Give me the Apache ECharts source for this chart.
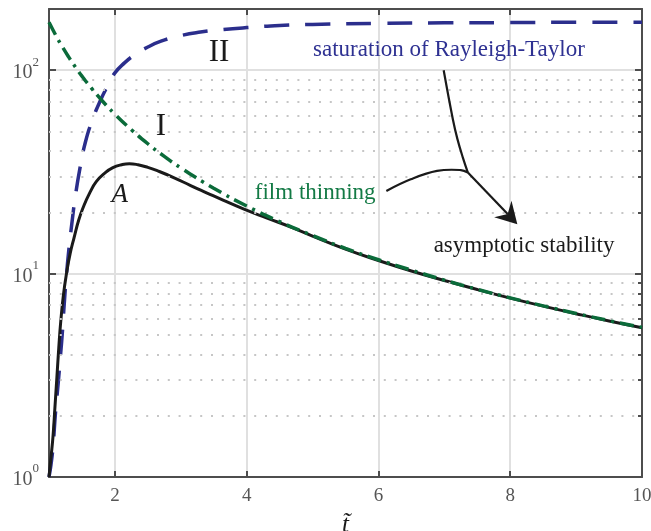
<!DOCTYPE html>
<html>
<head>
<meta charset="utf-8">
<script src="https://cdn.jsdelivr.net/npm/echarts@6/dist/echarts.min.js"></script>
<style>
  html, body { margin: 0; background: #fff; }
  #main { width: 651px; height: 531px; }
</style>
</head>
<body>
<div id="main"></div>
<script>
// curve A (solid black)
const tA = [1, 1.03, 1.06, 1.09, 1.12, 1.15, 1.18, 1.22, 1.27, 1.32, 1.38, 1.45, 1.52, 1.62, 1.72, 1.85, 1.97, 2.1, 2.22, 2.35, 2.5, 2.65, 2.9, 3.15, 3.4, 3.65, 3.95, 4.3, 4.7, 5, 5.5, 6, 6.5, 7, 7.5, 8, 8.5, 9, 9.5, 10];
const vA = [1.0, 1.25, 1.57, 2.2, 3.1, 4.4, 5.9, 7.9, 10.2, 12.5, 15.0, 18.3, 21.2, 25.0, 28.4, 31.3, 33.2, 34.3, 34.7, 34.3, 33.3, 32.0, 29.6, 27.1, 24.9, 22.9, 20.8, 18.8, 16.8, 15.3, 13.2, 11.6, 10.3, 9.25, 8.35, 7.58, 6.92, 6.35, 5.85, 5.42];

// curve II (blue dashed, saturation of Rayleigh-Taylor)
const tII = [1, 1.03, 1.06, 1.1, 1.14, 1.17, 1.2, 1.23, 1.26, 1.3, 1.35, 1.4, 1.47, 1.55, 1.65, 1.78, 1.9, 2.0, 2.15, 2.3, 2.5, 2.7, 3.0, 3.3, 3.6, 4.0, 4.5, 5.0, 6.0, 7.0, 8.0, 9.0, 10];
const vII = [1.0, 1.15, 1.4, 2.1, 2.9, 3.8, 5.0, 7.0, 9.4, 13, 18, 24, 33, 44, 56, 71, 85, 97, 109, 119, 130, 139, 148, 154, 158, 162, 166, 168, 170, 171, 171.5, 172, 172];

// curve I (green dash-dot, film thinning)
const tI = [1, 1.1, 1.2, 1.3, 1.4, 1.5, 1.65, 1.8, 2, 2.25, 2.5, 2.75, 3, 3.5, 4, 4.5, 5, 5.5, 6, 6.5, 7, 7.5, 8, 8.5, 9, 9.5, 10];
const vI = [172, 149.1, 130.8, 116.0, 103.8, 93.6, 81.2, 71.2, 60.8, 51.0, 43.5, 37.7, 33.1, 26.3, 21.5, 18.0, 15.4, 13.3, 11.7, 10.4, 9.29, 8.37, 7.60, 6.94, 6.37, 5.87, 5.44];

const minorY = [2, 3, 4, 5, 6, 7, 8, 9, 20, 30, 40, 50, 60, 70, 80, 90];

// annotations, in data coordinates
const labels = [
  { text: 'II', at: [3.58, 122], size: 31, color: '#1a1a1a', italic: false },
  { text: 'I', at: [2.70, 52.8], size: 31, color: '#1a1a1a', italic: false },
  { text: 'A', at: [2.075, 24.3], size: 27, color: '#1a1a1a', italic: true },
  { text: 'saturation of Rayleigh-Taylor', at: [7.07, 126], size: 23, color: '#2e3192', italic: false },
  { text: 'film thinning', at: [5.04, 25.0], size: 23, color: '#137a45', italic: false },
  { text: 'asymptotic stability', at: [8.21, 13.6], size: 23, color: '#1a1a1a', italic: false }
];
const arrowFromTop = [[6.99, 100], [7.13, 57.3], [7.2, 45.7], [7.28, 37.3], [7.357, 31.4]];
const arrowFromLeft = [[6.12, 25.5], [6.49, 29.1], [6.89, 32.0], [7.25, 32.3], [7.357, 31.4]];
const arrowShaft = [[7.357, 31.4], [8.108, 17.5]];

const zip = (ts, vs) => ts.map((t, i) => [t, vs[i]]);

const serif = 'Liberation Serif';
const frame = '#4d4d4d';
const yRange = { type: 'log', logBase: 10, min: 1, max: 200 };

const chart = echarts.init(document.getElementById('main'));

const option = {
  animation: false,
  grid: { left: 49, right: 9, top: 9, bottom: 54, containLabel: false, outerBoundsMode: 'none' },
  xAxis: [
    {
      type: 'value', min: 1, max: 10, splitNumber: 5,
      axisLine: { lineStyle: { color: frame, width: 2 } },
      axisTick: { inside: true, length: 6, lineStyle: { color: frame, width: 2 } },
      axisLabel: { showMinLabel: false, margin: 10, color: '#555', fontFamily: serif, fontSize: 19 },
      splitLine: { show: true, lineStyle: { color: '#e0e0e0', width: 2 } },
      name: 't\u0303', nameLocation: 'middle', nameGap: 36,
      nameTextStyle: { fontFamily: serif, fontSize: 25, fontStyle: 'italic', color: '#1a1a1a' }
    },
    {
      type: 'value', min: 1, max: 10, splitNumber: 5, position: 'top',
      axisLine: { lineStyle: { color: frame, width: 2 } },
      axisTick: { inside: true, length: 6, lineStyle: { color: frame, width: 2 } },
      axisLabel: { show: false }, splitLine: { show: false }
    }
  ],
  yAxis: [
    Object.assign({}, yRange, {
      axisLine: { lineStyle: { color: frame, width: 2 } },
      axisTick: { inside: true, length: 7, lineStyle: { color: frame, width: 2 } },
      axisLabel: {
        margin: 10, showMaxLabel: false,
        formatter: v => {
          const e = Math.round(Math.log10(v));
          return Math.abs(Math.pow(10, e) - v) < 1e-6 ? '{b|10}{s|' + e + '}' : '';
        },
        rich: {
          b: { fontFamily: serif, fontSize: 20, color: '#555', lineHeight: 20, padding: [6, 0, 0, 0] },
          s: { fontFamily: serif, fontSize: 13, color: '#555', lineHeight: 14, padding: [0, 0, 16, 0] }
        }
      },
      splitLine: { show: true, lineStyle: { color: '#e0e0e0', width: 2 } }
    }),
    Object.assign({}, yRange, {
      axisLine: { show: false },
      axisTick: { inside: true, length: 4, customValues: minorY, lineStyle: { color: frame, width: 2 } },
      axisLabel: { show: false }, splitLine: { show: false }
    }),
    Object.assign({}, yRange, {
      position: 'right',
      axisLine: { lineStyle: { color: frame, width: 2 } },
      axisTick: { inside: true, length: 7, lineStyle: { color: frame, width: 2 } },
      axisLabel: { show: false }, splitLine: { show: false }
    }),
    Object.assign({}, yRange, {
      position: 'right',
      axisLine: { show: false },
      axisTick: { inside: true, length: 4, customValues: minorY, lineStyle: { color: frame, width: 2 } },
      axisLabel: { show: false }, splitLine: { show: false }
    })
  ],
  series: [
    {
      // dotted minor grid
      type: 'line', data: [], z: 1, silent: true,
      markLine: {
        silent: true, symbol: 'none', label: { show: false },
        lineStyle: { color: '#c6c6c6', width: 2, type: [2, 8.8] },
        data: minorY.map(v => ({ yAxis: v }))
      }
    },
    {
      name: 'A', type: 'line', data: zip(tA, vA), z: 4,
      showSymbol: false, smooth: 0.5,
      lineStyle: { color: '#1a1a1a', width: 3 }
    },
    {
      name: 'I', type: 'line', data: zip(tI, vI), z: 5,
      showSymbol: false, smooth: 0.5,
      lineStyle: { color: '#0b6b3a', width: 3.5, type: [14, 6, 3, 6] }
    },
    {
      name: 'II', type: 'line', data: zip(tII, vII), z: 3,
      showSymbol: false, smooth: 0.5,
      lineStyle: { color: '#2b2e8c', width: 3.5, type: [25, 16] }
    }
  ]
};

chart.setOption(option);

// annotations placed through the axes
const px = p => chart.convertToPixel({ xAxisIndex: 0, yAxisIndex: 0 }, p);
const graphics = [];
labels.forEach(l => {
  const p = px(l.at);
  graphics.push({
    type: 'text', x: p[0], y: p[1], z: 100,
    style: {
      text: l.text, fill: l.color, fontFamily: serif, fontSize: l.size,
      fontStyle: l.italic ? 'italic' : 'normal',
      align: 'center', verticalAlign: 'middle',
      textAlign: 'center', textVerticalAlign: 'middle'
    }
  });
});
[arrowFromTop, arrowFromLeft].forEach(path => {
  graphics.push({
    type: 'polyline', z: 100,
    shape: { points: path.map(px), smooth: 0.4 },
    style: { stroke: '#1a1a1a', lineWidth: 2.2, fill: null }
  });
});
const s0 = px(arrowShaft[0]);
const tip = px(arrowShaft[1]);
const dx = tip[0] - s0[0], dy = tip[1] - s0[1];
const len = Math.hypot(dx, dy);
const ux = dx / len, uy = dy / len, nx = -uy, ny = ux;
const headLen = 21, headHalf = 12, notch = 14;
graphics.push({
  type: 'line', z: 100,
  shape: { x1: s0[0], y1: s0[1], x2: tip[0] - ux * notch, y2: tip[1] - uy * notch },
  style: { stroke: '#1a1a1a', lineWidth: 2.2 }
});
graphics.push({
  type: 'polygon', z: 101,
  shape: {
    points: [
      tip,
      [tip[0] - ux * headLen + nx * headHalf, tip[1] - uy * headLen + ny * headHalf],
      [tip[0] - ux * notch, tip[1] - uy * notch],
      [tip[0] - ux * headLen - nx * headHalf, tip[1] - uy * headLen - ny * headHalf]
    ]
  },
  style: { fill: '#1a1a1a' }
});
chart.setOption({ graphic: graphics });
</script>
</body>
</html>
